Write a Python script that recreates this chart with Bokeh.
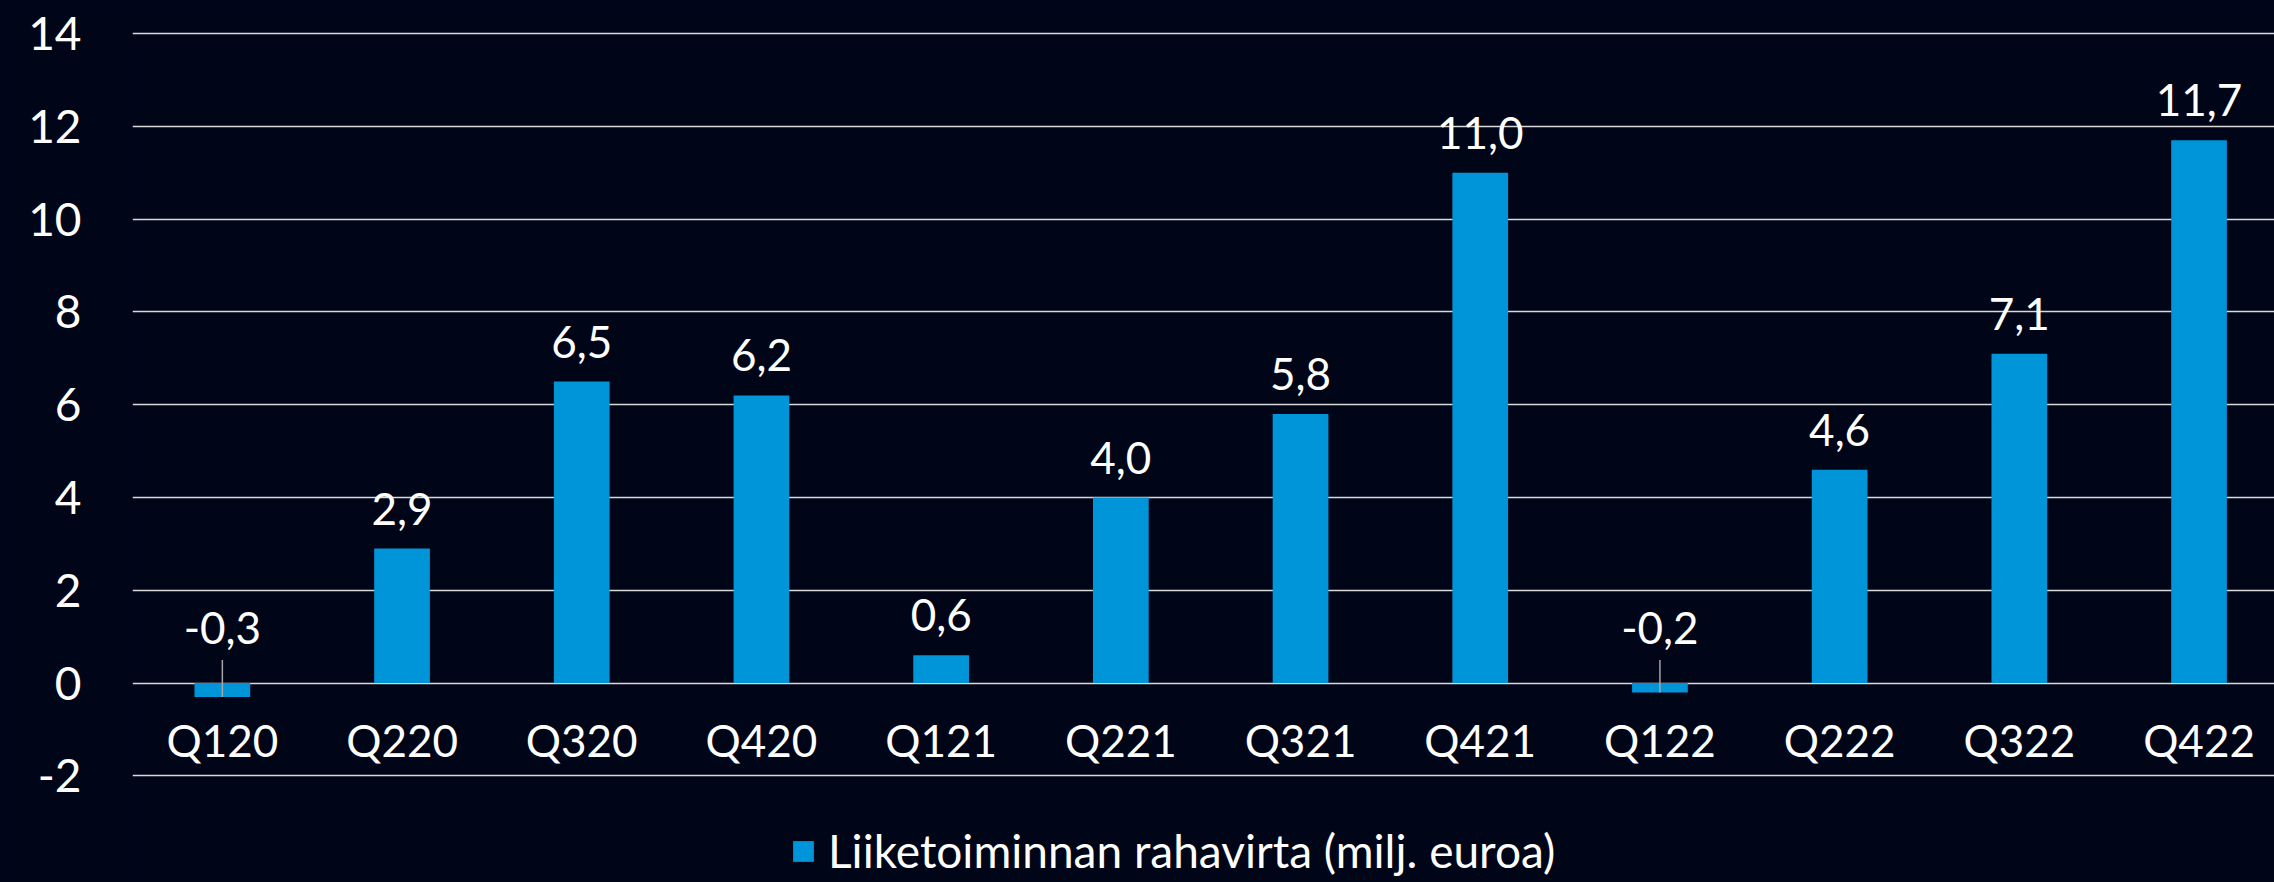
from bokeh.plotting import figure
from bokeh.models import ColumnDataSource, FixedTicker, Legend, LegendItem, Range1d
from bokeh.core.properties import value
from bokeh.embed import file_html
from bokeh.resources import INLINE

categories = ["Q120", "Q220", "Q320", "Q420", "Q121", "Q221", "Q321", "Q421",
              "Q122", "Q222", "Q322", "Q422"]
values = [-0.3, 2.9, 6.5, 6.2, 0.6, 4.0, 5.8, 11.0, -0.2, 4.6, 7.1, 11.7]
y_ticks = [-2, 0, 2, 4, 6, 8, 10, 12, 14]
series_name = "Liiketoiminnan rahavirta (milj. euroa)"

BG = "#000518"
BAR = "#0095d9"
FONT = "Lato"

xs = list(range(len(categories)))
labels = [f"{v:.1f}".replace(".", ",") for v in values]

pos = [i for i, v in enumerate(values) if v >= 0]
neg = [i for i, v in enumerate(values) if v < 0]

src = ColumnDataSource(dict(x=xs, v=values, cat=categories, zero=[0] * len(xs)))
src_pos = ColumnDataSource(dict(x=[xs[i] for i in pos], v=[values[i] for i in pos],
                                lab=[labels[i] for i in pos]))
src_neg = ColumnDataSource(dict(x=[xs[i] for i in neg], v=[values[i] for i in neg],
                                zero=[0] * len(neg), lead=[0.5] * len(neg),
                                lab=[labels[i] for i in neg]))

p = figure(width=2274, height=882, output_backend="svg", toolbar_location=None,
           x_range=Range1d(-0.5, 11.42), y_range=Range1d(-4.297, 14.043),
           x_axis_location=None,
           min_border_left=132, min_border_right=0, min_border_top=31, min_border_bottom=0,
           background_fill_color=BG, border_fill_color=BG, outline_line_color=None)

p.yaxis.ticker = FixedTicker(ticks=y_ticks)
p.yaxis.major_label_overrides = {t: str(t) for t in y_ticks}
p.yaxis.axis_line_color = None
p.yaxis.major_tick_line_color = None
p.yaxis.minor_tick_line_color = None
p.yaxis.major_label_text_font = FONT
p.yaxis.major_label_text_font_size = "46px"
p.yaxis.major_label_text_color = "white"
p.yaxis.major_label_standoff = 45

p.ygrid.grid_line_color = "#d9d9d9"
p.ygrid.grid_line_width = 1.5
p.xgrid.visible = False

r = p.vbar(x="x", top="v", width=0.31, source=src, fill_color=BAR, line_color=None)

p.segment(x0="x", y0="lead", x1="x", y1="v", source=src_neg,
          line_color="#a6a6a6", line_width=1.5)

p.text(x="x", y="v", text="lab", source=src_pos, text_align="center",
       text_baseline="alphabetic", y_offset=-40, text_color="white",
       text_font=value(FONT), text_font_size="44px")
p.text(x="x", y="zero", text="lab", source=src_neg, text_align="center",
       text_baseline="alphabetic", y_offset=-55, text_color="white",
       text_font=value(FONT), text_font_size="44px")

p.text(x="x", y="zero", text="cat", source=src, text_align="center",
       text_baseline="middle", y_offset=57, text_color="white",
       text_font=value(FONT), text_font_size="44px")

legend = Legend(items=[LegendItem(label=series_name, renderers=[r])],
                location=(658, 4), orientation="horizontal",
                background_fill_alpha=0, border_line_color=None,
                label_text_color="white", label_text_font=FONT,
                label_text_font_size="46px", glyph_width=26, glyph_height=26,
                padding=0, margin=0, spacing=0, label_standoff=12)
p.add_layout(legend)

html = file_html(p, INLINE)
html = html.replace("</head>", f"<style>html,body{{background:{BG};}}</style></head>", 1)
open("out.html", "w").write(html)
